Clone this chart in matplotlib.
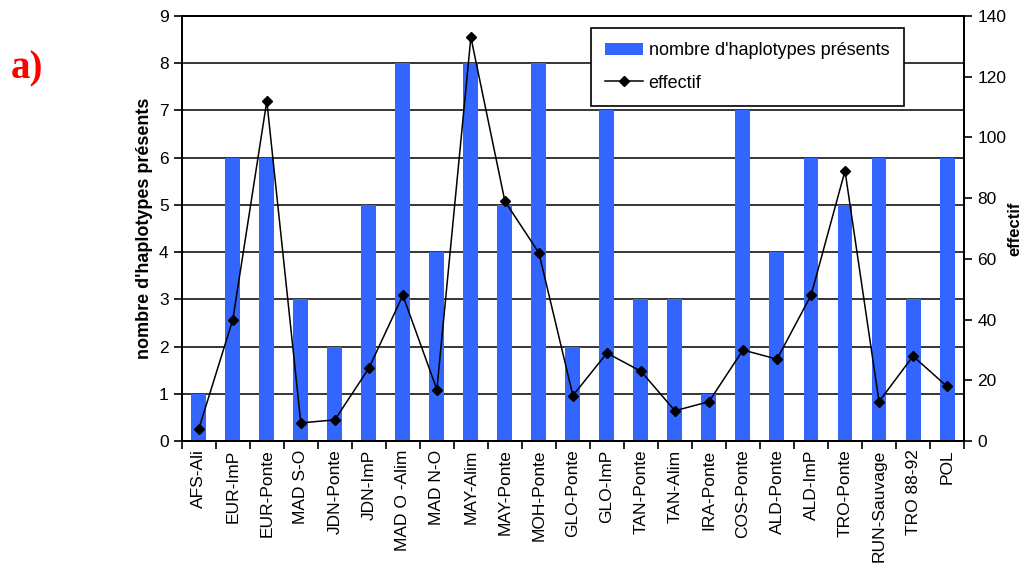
import numpy as np
import matplotlib.pyplot as plt

plt.rcParams['font.family'] = ['Liberation Sans', 'DejaVu Sans']

sites = ['AFS-Ali', 'EUR-ImP', 'EUR-Ponte', 'MAD S-O', 'JDN-Ponte', 'JDN-ImP',
         'MAD O -Alim', 'MAD N-O', 'MAY-Alim', 'MAY-Ponte', 'MOH-Ponte',
         'GLO-Ponte', 'GLO-ImP', 'TAN-Ponte', 'TAN-Alim', 'IRA-Ponte',
         'COS-Ponte', 'ALD-Ponte', 'ALD-ImP', 'TRO-Ponte', 'RUN-Sauvage',
         'TRO 88-92', 'POL']
haplotypes = [1, 6, 6, 3, 2, 5, 8, 4, 8, 5, 8, 2, 7, 3, 3, 1, 7, 4, 6, 5, 6, 3, 6]
effectif = [4, 40, 112, 6, 7, 24, 48, 17, 133, 79, 62, 15, 29, 23, 10, 13,
            30, 27, 48, 89, 13, 28, 18]

fig = plt.figure(figsize=(10.27, 5.67), dpi=100)
ax = fig.add_axes([0.177, 0.222, 0.7617, 0.7498])
x = np.arange(len(sites))

ax.set_axisbelow(True)
ax.grid(axis='y', color='black', lw=1.1)
bars = ax.bar(x, haplotypes, width=0.44, color='#3366ff', zorder=2,
              label="nombre d'haplotypes présents")
ax.set_xlim(-0.5, len(sites) - 0.5)
ax.set_ylim(0, 9)
ax.set_yticks(range(10))
ax.set_xticks(x)
ax.set_xticklabels(sites, rotation=90, fontsize=12.5)
ax.set_xticks(np.arange(-0.5, len(sites)), minor=True)
ax.tick_params(axis='x', which='major', length=0, pad=6)
ax.tick_params(axis='x', which='minor', length=6, width=1.2)
ax.tick_params(axis='y', labelsize=12.5, length=6, width=1.2)
ax.set_ylabel("nombre d'haplotypes présents", fontsize=13, fontweight='bold')
for s in ax.spines.values():
    s.set_linewidth(1.4)

ax2 = ax.twinx()
line, = ax2.plot(x, effectif, color='black', lw=1.1, marker='D', ms=5.5,
                 label='effectif')
ax2.set_ylim(0, 140)
ax2.set_yticks(range(0, 141, 20))
ax2.tick_params(axis='y', labelsize=12.5, length=6, width=1.2)
ax2.set_ylabel('effectif', fontsize=12, fontweight='bold', labelpad=1)
for s in ax2.spines.values():
    s.set_linewidth(1.4)

leg = ax2.legend([bars, line], [bars.get_label(), 'effectif'],
                 loc='upper left', bbox_to_anchor=(0.523, 0.972),
                 fontsize=13, fancybox=False, framealpha=1, edgecolor='black',
                 borderpad=0.8, handlelength=2.1, handletextpad=0.3,
                 labelspacing=0.85, borderaxespad=0)
leg.get_frame().set_linewidth(1.2)

fig.text(0.010, 0.862, 'a)', color='red', fontsize=28, fontweight='bold',
         family='Liberation Serif')

fig.savefig('out.png', dpi=100)
